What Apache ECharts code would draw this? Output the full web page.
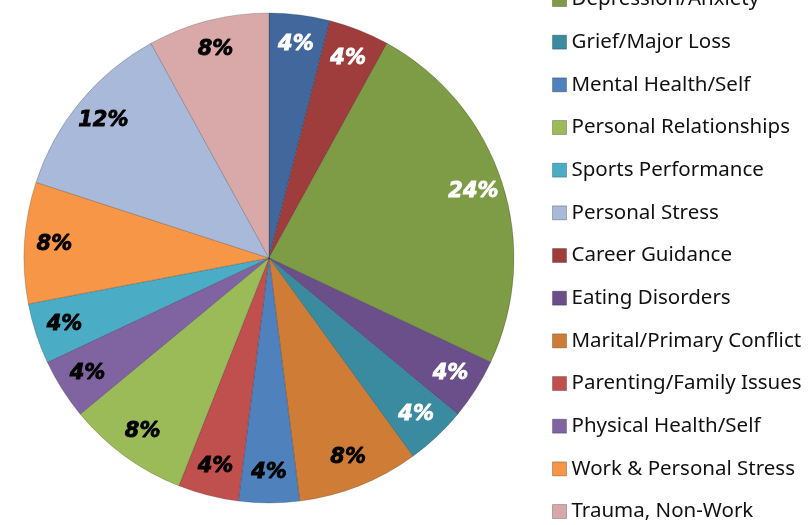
<!DOCTYPE html>
<html>
<head>
<meta charset="utf-8">
<script src="https://cdn.jsdelivr.net/npm/echarts@6/dist/echarts.min.js"></script>
<style>
    html, body { margin: 0; padding: 0; background: #fff; }
    #main { width: 812px; height: 525px; }
</style>
</head>
<body>
<div id="main"></div>
<script>
// slices, clockwise from 12 o'clock
var names = ['Academic/Work', 'Career Guidance', 'Depression/Anxiety', 'Eating Disorders',
    'Grief/Major Loss', 'Marital/Primary Conflict', 'Mental Health/Self', 'Parenting/Family Issues',
    'Personal Relationships', 'Physical Health/Self', 'Sports Performance', 'Work & Personal Stress',
    'Personal Stress', 'Trauma, Non-Work'];
var values = [4, 4, 24, 4, 4, 8, 4, 4, 8, 4, 4, 8, 12, 8];
var colors = ['#41679c', '#9e3d3b', '#7e9b45', '#6a4f8a', '#3a8aa0', '#cf7d36', '#4f81bd', '#c0504d',
    '#9bbb59', '#8064a2', '#4bacc6', '#f79646', '#a9b9d9', '#d9a9aa'];
var whiteLabel = [true, true, true, true, true, false, false, false, false, false, false, false, false, false];
// legend order as shown
var legendNames = ['Depression/Anxiety', 'Grief/Major Loss', 'Mental Health/Self', 'Personal Relationships',
    'Sports Performance', 'Personal Stress', 'Career Guidance', 'Eating Disorders',
    'Marital/Primary Conflict', 'Parenting/Family Issues', 'Physical Health/Self',
    'Work & Personal Stress', 'Trauma, Non-Work'];

(function () {
    var chart = echarts.init(document.getElementById('main'));
    var pieData = names.map(function (n, i) {
        return {
            name: n,
            value: values[i],
            itemStyle: { color: colors[i] }
        };
    });
    var labelData = names.map(function (n, i) {
        var c = whiteLabel[i] ? '#ffffff' : '#000000';
        return {
            name: n,
            value: values[i],
            label: { color: c, textBorderColor: c }
        };
    });
    var option = {
        animation: false,
        legend: {
            orient: 'vertical',
            left: 552,
            top: -11,
            height: 620,
            data: legendNames,
            icon: 'rect',
            itemWidth: 14,
            itemHeight: 14,
            itemGap: 21.67,
            padding: 0,
            textStyle: {
                fontFamily: 'Noto Sans',
                fontSize: 20.5,
                lineHeight: 20,
                color: '#111'
            },
            itemStyle: {
                borderColor: 'rgba(0,0,0,0.25)',
                borderWidth: 1
            }
        },
        series: [
            {
                name: 'pie',
                type: 'pie',
                center: [269, 258],
                radius: [0, 245],
                startAngle: 90,
                clockwise: true,
                label: { show: false },
                labelLine: { show: false },
                itemStyle: {
                    borderColor: 'rgba(0,0,0,0.18)',
                    borderWidth: 1
                },
                emphasis: { disabled: true },
                data: pieData
            },
            {
                // transparent ring, only carries the labels near the rim
                name: 'labels',
                type: 'pie',
                center: [269, 258],
                radius: [208, 216],
                startAngle: 90,
                clockwise: true,
                silent: true,
                legendHoverLink: false,
                itemStyle: { color: 'rgba(0,0,0,0)' },
                label: {
                    show: true,
                    position: 'inside',
                    formatter: function (p) { return p.value + '%'; },
                    fontFamily: 'DejaVu Sans',
                    fontWeight: 'bold',
                    fontStyle: 'italic',
                    fontSize: 21,
                    textBorderWidth: 0.8
                },
                labelLine: { show: false },
                emphasis: { disabled: true },
                data: labelData
            }
        ]
    };
    chart.setOption(option);
}());
</script>
</body>
</html>
